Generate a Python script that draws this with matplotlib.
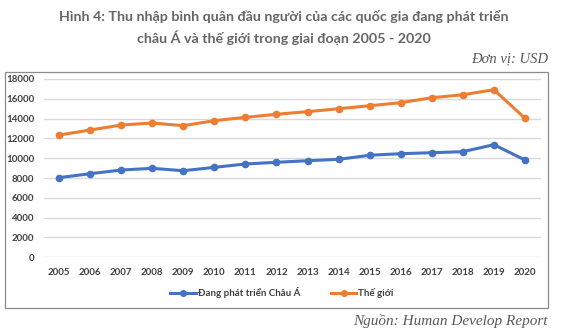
import matplotlib
matplotlib.use("Agg")
import matplotlib.pyplot as plt
from matplotlib.patches import Rectangle

years = [str(y) for y in range(2005, 2021)]
asia = [8040, 8440, 8810, 8980, 8740, 9080, 9420, 9590, 9750, 9890, 10300, 10460, 10560, 10660, 11370, 9820]
world = [12340, 12850, 13350, 13560, 13290, 13790, 14130, 14440, 14700, 15000, 15300, 15610, 16110, 16410, 16920, 14030]
series_names = ["Đang phát triển Châu Á", "Thế giới"]
title = "Hình 4: Thu nhập bình quân đầu người của các quốc gia đang phát triển\nchâu Á và thế giới trong giai đoạn 2005 - 2020"
unit = "Đơn vị: USD"
source = "Nguồn: Human Develop Report"

W, H = 568, 336
fig = plt.figure(figsize=(W / 100, H / 100), dpi=100)
fam = ['Lato', 'Noto Sans', 'DejaVu Sans']

# chart box
fig.patches.append(Rectangle((5 / W, 1 - 308 / H), (548 - 5) / W, (308 - 72) / H,
                             transform=fig.transFigure, fill=False, edgecolor='#8c8c8c', linewidth=0.9))

ax = fig.add_axes([43.5 / W, 1 - 257.3 / H, (540.5 - 43.5) / W, (257.3 - 79) / H])
x = list(range(len(years)))
ax.plot(x, asia, color='#4472C4', linewidth=2.2, marker='o', markersize=4.5, label=series_names[0])
ax.plot(x, world, color='#ED7D31', linewidth=2.2, marker='o', markersize=4.5, label=series_names[1])
ax.set_xlim(-0.5, len(years) - 0.5)
ax.set_ylim(0, 18000)
ax.set_yticks(range(0, 18001, 2000))
ax.set_xticks(x)
ax.set_xticklabels(years)
ax.grid(axis='y', color='#d9d9d9', linewidth=1.0)
ax.set_axisbelow(True)
for s in ax.spines.values():
    s.set_visible(False)
ax.tick_params(length=0, labelsize=7, labelcolor='#404040')
ax.tick_params(axis='x', pad=8)
ax.tick_params(axis='y', pad=6.5)
for lab in ax.get_xticklabels() + ax.get_yticklabels():
    lab.set_fontweight('bold')
    lab.set_family(fam)

leg = fig.legend(loc='center', bbox_to_anchor=(282 / W, 1 - 293 / H), ncol=2, frameon=False,
                 prop={'family': fam, 'weight': 'bold', 'size': 7}, handlelength=2.6,
                 columnspacing=3.2, handletextpad=0.2, markerscale=0.9)
for t in leg.get_texts():
    t.set_color('#404040')
    t.set_fontweight('bold')

fig.text(284 / W, 1 - 27 / H, title, ha='center', va='center', fontsize=10.3, fontweight='bold',
         color='#666666', family=fam, linespacing=1.6)
fig.text(548 / W, 1 - 59 / H, unit, ha='right', va='center', fontsize=10.5, style='italic',
         color='#595959', family=['Liberation Serif'])
fig.text(548 / W, 1 - 321 / H, source, ha='right', va='center', fontsize=11, style='italic',
         color='#595959', family=['Liberation Serif'])

fig.savefig('out.png', dpi=100)
